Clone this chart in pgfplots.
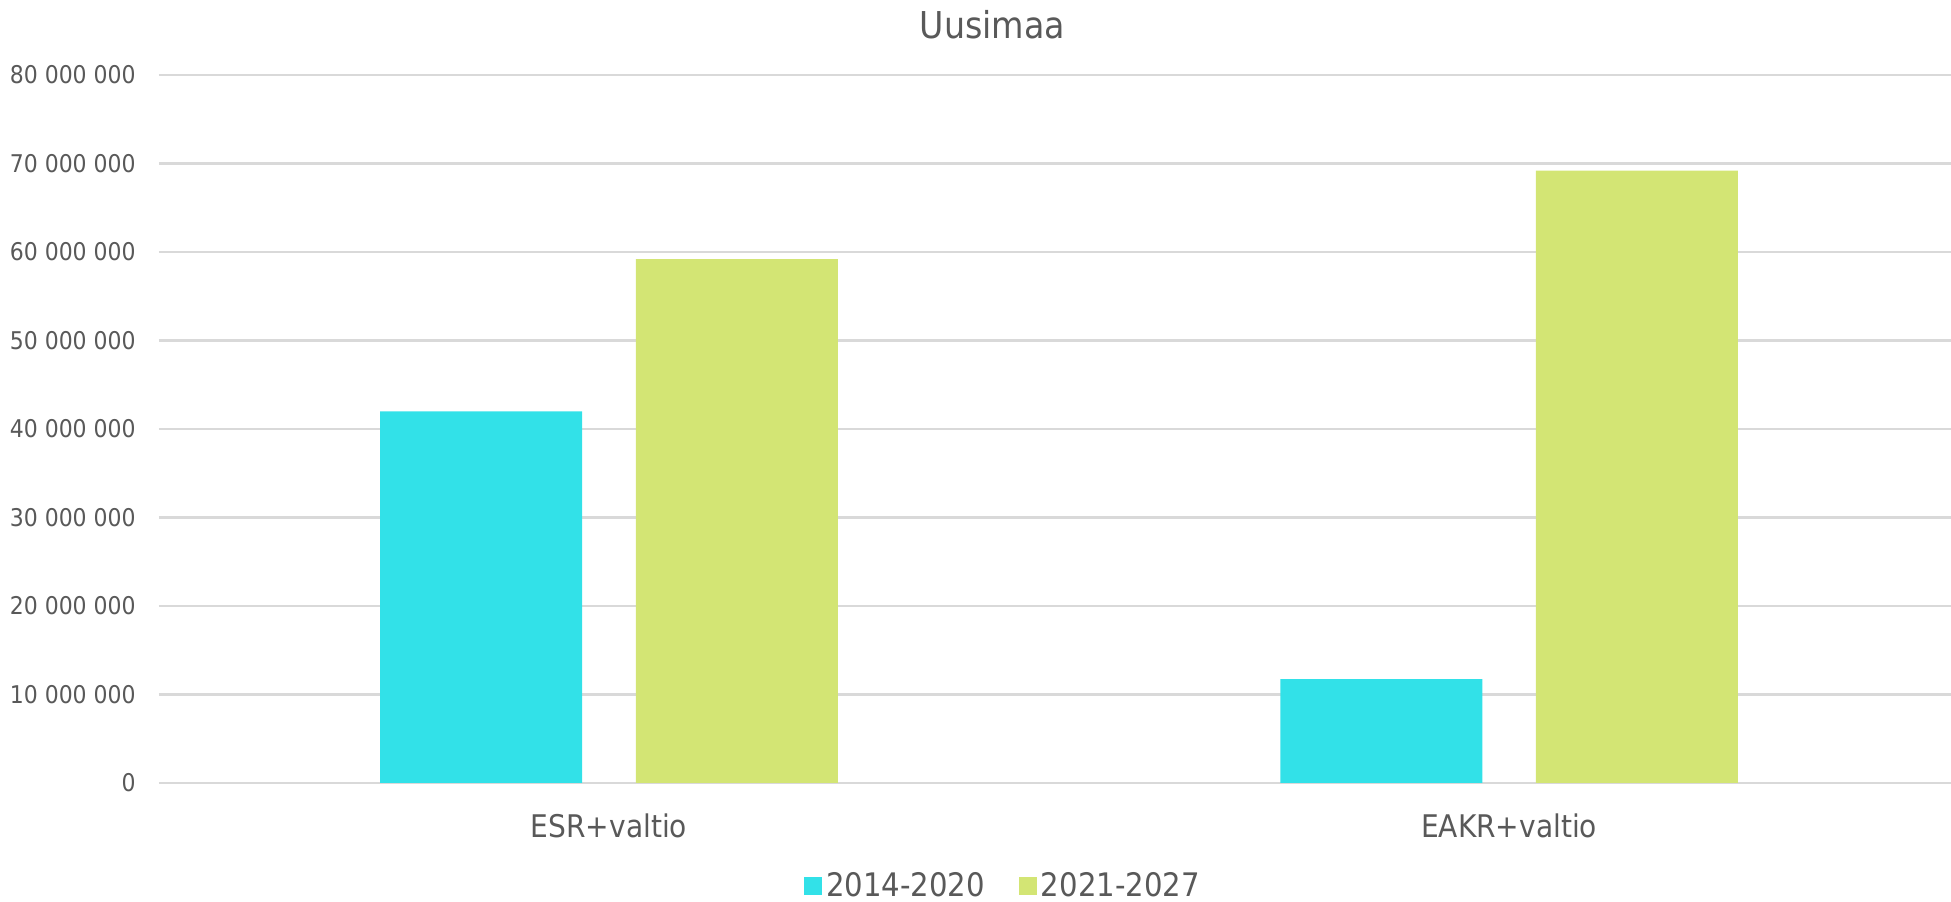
\documentclass[border=0pt]{standalone}
\usepackage{pgfplots}
\pgfplotsset{compat=1.18}
\usepackage{fontspec}
\setmainfont{DejaVu Sans Condensed}
\definecolor{cA}{HTML}{32E1E8}
\definecolor{cB}{HTML}{D3E574}
\definecolor{txt}{HTML}{595959}
\definecolor{grd}{HTML}{D9D9D9}
\begin{document}
\begin{tikzpicture}
\begin{axis}[name=ax, width=896pt, height=354pt, scale only axis,
  xmin=-0.5, xmax=1.491, ymin=0, ymax=80000000,
  xtick={0,1}, xticklabels={ESR+valtio, EAKR+valtio},
  ytick={0,10000000,20000000,30000000,40000000,50000000,60000000,70000000,80000000},
  scaled y ticks=false,
  /pgf/number format/assume math mode=true,
  /pgf/number format/fixed, /pgf/number format/precision=0,
  /pgf/number format/1000 sep={\ },
  axis line style={draw=none}, major tick length=0pt,
  ymajorgrids, grid style={grd, line width=1.1pt},
  yticklabel style={anchor=east, inner sep=0pt, xshift=-11.5pt, text=txt, font=\fontsize{12.2}{14}\selectfont},
  xticklabel style={anchor=base, inner sep=0pt, yshift=-27.5pt, text=txt, font=\fontsize{15.6}{18}\selectfont},
  title={Uusimaa},
  title style={at={(0.465,1)}, anchor=base, yshift=12pt, inner sep=0pt, text=txt, font=\fontsize{18.5}{22}\selectfont},
  legend style={at={(0.4715,-0.1455)}, anchor=center, draw=none, legend columns=2,
    font=\fontsize{16.2}{18}\selectfont, text=txt,
    /tikz/every even column/.append style={column sep=15pt}},
  legend cell align=left,
]
\addplot[ybar, fill=cA, draw=none, bar width=0.2244, bar shift=-0.142,
  legend image code/.code={\fill[cA] (0pt,-4.5pt) rectangle (9pt,4.5pt);}]
  coordinates {(0,42000000) (1,11750000)};
\addlegendentry{2014-2020}
\addplot[ybar, fill=cB, draw=none, bar width=0.2244, bar shift=0.142,
  legend image code/.code={\fill[cB] (0pt,-4.5pt) rectangle (9pt,4.5pt);}]
  coordinates {(0,59200000) (1,69200000)};
\addlegendentry{2021-2027}
\end{axis}
\pgfresetboundingbox
\path[use as bounding box] ([shift={(-79.5pt,-59.5pt)}]ax.south west) rectangle ([shift={(0pt,37.5pt)}]ax.north east);
\end{tikzpicture}
\end{document}
